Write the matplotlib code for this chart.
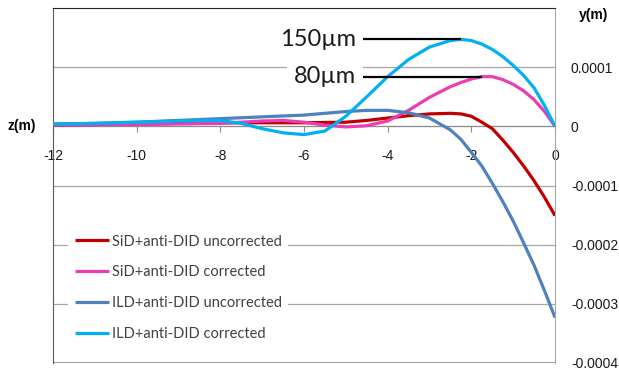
import numpy as np
import matplotlib
matplotlib.use("Agg")
import matplotlib.pyplot as plt

# z positions (m) and displacement y in units of 1e-4 m
z = [-12, -11, -10, -9, -8, -7.5, -7, -6.5, -6, -5.5, -5, -4.5, -4, -3.5,
     -3, -2.5, -2.25, -2, -1.75, -1.5, -1.25, -1, -0.75, -0.5, -0.25, 0]

sid_uncorr = [0.02, 0.03, 0.04, 0.05, 0.06, 0.06, 0.06, 0.06, 0.06, 0.065, 0.07,
              0.10, 0.14, 0.18, 0.21, 0.22, 0.21, 0.17, 0.07, -0.04, -0.23,
              -0.44, -0.67, -0.92, -1.20, -1.51]
sid_corr = [0.02, 0.025, 0.03, 0.04, 0.05, 0.07, 0.09, 0.10, 0.07, 0.02, -0.01,
            0.01, 0.09, 0.27, 0.49, 0.67, 0.74, 0.80, 0.84, 0.84, 0.79,
            0.71, 0.60, 0.45, 0.25, 0.0]
ild_uncorr = [0.04, 0.05, 0.07, 0.10, 0.13, 0.145, 0.16, 0.175, 0.19, 0.22, 0.25,
              0.27, 0.27, 0.23, 0.14, -0.06, -0.22, -0.44, -0.67, -0.96, -1.27,
              -1.60, -1.97, -2.35, -2.78, -3.23]
ild_corr = [0.04, 0.05, 0.07, 0.09, 0.10, 0.05, -0.04, -0.11, -0.14, -0.08, 0.17,
            0.50, 0.84, 1.13, 1.34, 1.45, 1.47, 1.45, 1.39, 1.30, 1.18,
            1.03, 0.86, 0.65, 0.35, 0.0]

labels = ["SiD+anti-DID uncorrected", "SiD+anti-DID corrected",
          "ILD+anti-DID uncorrected", "ILD+anti-DID corrected"]
colors = ["#C00000", "#EC3CB4", "#4F81BD", "#00B0F0"]

peak_labels = ["150\u00b5m", "80\u00b5m"]
xticks = [-12, -10, -8, -6, -4, -2, 0]
yticks = [-4, -3, -2, -1, 0, 1]
ytick_labels = ["-0.0004", "-0.0003", "-0.0002", "-0.0001", "0", "0.0001"]

scale = 1e-4
zz = np.array(z)
series = [np.array(s) * scale for s in (sid_uncorr, sid_corr, ild_uncorr, ild_corr)]

W, H = 619, 372
fig = plt.figure(figsize=(W / 100, H / 100), dpi=100)
ax = fig.add_axes([53 / W, 1 - 363 / H, (555 - 53) / W, (363 - 8) / H])

ax.set_xlim(-12, 0)
ax.set_ylim(-4 * scale, 2 * scale)

grid_c = "#A6A6A6"
for t in yticks:
    ax.axhline(t * scale, color=grid_c, lw=0.9, zorder=1)

for s, lab, c in zip(series, labels, colors):
    ax.plot(zz, s, color=c, lw=2.3, label=lab, zorder=3, solid_capstyle="butt",
            solid_joinstyle="round")

# peak annotations on the corrected curves
for s, txt in zip((series[3], series[1]), peak_labels):
    i = int(np.argmax(s))
    ax.hlines(s[i], -4.6, zz[i], color="black", lw=1.6, zorder=4)
    ax.text(-4.75, s[i], txt, ha="right", va="center", fontsize=17,
            family=["Lato", "DejaVu Sans"], color="#1a1a1a", zorder=2,
            bbox=dict(boxstyle="square,pad=0.3", fc="white", ec="none"))

# spines: x axis through y=0, y axis at the right edge (z=0)
ax.spines["bottom"].set_position(("data", 0))
ax.spines["bottom"].set_color("#8C8C8C")
ax.spines["right"].set_color("#A6A6A6")
ax.spines["left"].set_color("#595959")
ax.spines["top"].set_color("#262626")
ax.axhline(-4 * scale, color="#8C8C8C", lw=1.2, zorder=2)

ax.set_xticks(xticks)
ax.set_xticklabels([str(t) for t in xticks], family="Liberation Sans",
                   fontsize=10, color="#1a1a1a")
ax.tick_params(axis="x", direction="out", length=4, color="#8C8C8C", pad=12)

ax.yaxis.tick_right()
ax.set_yticks([t * scale for t in yticks])
ax.set_yticklabels(ytick_labels, family="Liberation Sans", fontsize=10,
                   color="#1a1a1a", ha="left")
ax.tick_params(axis="y", length=0, pad=11.5)

fig.text(8 / W, 1 - 126 / H, "z(m)", fontsize=10, fontweight="bold",
         family="Liberation Sans", va="center", ha="left")
fig.text(579 / W, 1 - 15 / H, "y(m)", fontsize=10, fontweight="bold",
         family="Liberation Sans", va="center", ha="left")

leg = ax.legend(loc="upper left", bbox_to_anchor=(68 / W, 1 - 228 / H),
                bbox_transform=fig.transFigure, frameon=True, fancybox=False,
                prop={"family": ["Lato", "DejaVu Sans"], "size": 10.5},
                handlelength=2.35, handletextpad=0.2, labelspacing=1.15,
                borderpad=0.45, borderaxespad=0)
leg.get_frame().set_facecolor("white")
leg.get_frame().set_edgecolor("none")
leg.get_frame().set_alpha(1)
for t in leg.get_texts():
    t.set_color("#404040")
for h in leg.get_lines():
    h.set_linewidth(2.3)
leg.set_zorder(5)

fig.savefig("out.png", dpi=100)
